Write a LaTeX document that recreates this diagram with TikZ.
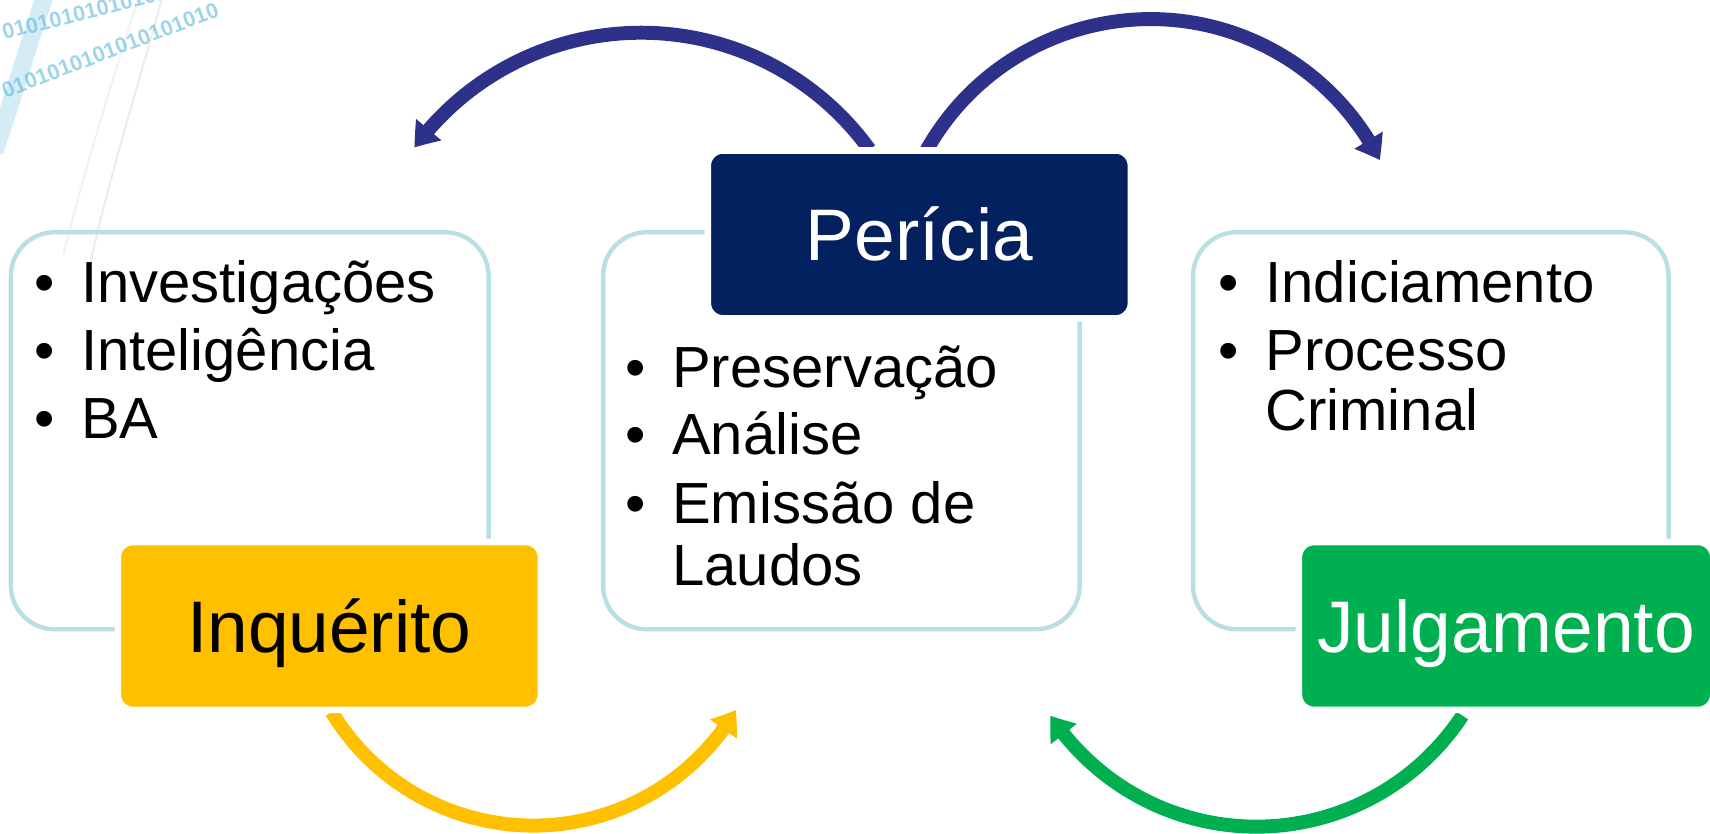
\documentclass[tikz,border=0pt]{standalone}
\usepackage{fontspec}
\setmainfont{Liberation Sans}
\usetikzlibrary{arrows.meta,bending}
\definecolor{outl}{HTML}{B9DFE4}
\definecolor{navybox}{HTML}{03205F}
\definecolor{navyarr}{HTML}{2E3189}
\definecolor{yelbox}{HTML}{FFC000}
\definecolor{grnbox}{HTML}{00AF50}
\definecolor{wmblue}{HTML}{5DB8E0}
\newcommand{\itembullet}{\makebox[21.5pt][l]{•}}
\begin{document}
\begin{tikzpicture}[x=0.5pt,y=0.5pt,
  outlinebox/.style={draw=outl, line width=2pt, rounded corners=20pt},
  titlebox/.style={rectangle, rounded corners=7pt, draw=white, line width=3pt,
     minimum width=194pt, minimum height=77pt, inner sep=0pt,
     text height=24pt, text depth=0pt, font=\fontsize{33.5}{40}\selectfont},
  listitem/.style={anchor=base west, inner sep=0pt, font=\fontsize{26.6}{32}\selectfont},
  cyclearrow/.style={line width=6.4pt, -{Triangle[length=10.5pt,width=14.5pt,bend]}},
  wmtext/.style={anchor=west, inner sep=0pt, text=wmblue, opacity=0.6,
     font=\fontsize{10}{11}\selectfont\bfseries}
]
\useasboundingbox (0,0) rectangle (1568,764);
\clip (0,0) rectangle (1568,764);

% faint background watermark (top-left)
\draw[wmblue!50, line width=8pt, opacity=0.55] (42,770) .. controls (28,730) and (14,680) .. (-5,625);
\draw[black!7, line width=1pt] (150,770) .. controls (125,680) and (100,600) .. (82,520);
\draw[black!5, line width=1pt] (128,770) .. controls (103,690) and (78,610) .. (58,530);
\node[wmtext, rotate=14] (wm1) at (2,734) {01010101010101010};
\node[wmtext, rotate=21] (wm2) at (2,680) {0101010101010101010};

% outline boxes
\draw[outlinebox] (10,187) rectangle (448,551);
\draw[outlinebox] (553,187) rectangle (990,551);
\draw[outlinebox] (1094,187) rectangle (1530,551);

% cycle arrows
\coordinate (a1s) at (797.2,626.9);
\coordinate (a2s) at (846.1,619.7);
\coordinate (a3s) at (304.2,111.1);
\coordinate (a4s) at (1340.9,107.9);
\draw[cyclearrow, navyarr] (a1s) arc[start angle=35.8, end angle=143.7, radius=129pt];
\draw[cyclearrow, navyarr] (a2s) arc[start angle=152.5, end angle=26.8, radius=117.75pt];
\draw[cyclearrow, yelbox] (a3s) arc[start angle=211.2, end angle=329.4, radius=108pt];
\draw[cyclearrow, grnbox] (a4s) arc[start angle=-33.3, end angle=-146.7, radius=113pt];

% title boxes
\node[titlebox, fill=yelbox, text=black] (inq) at (302,190) {Inquérito};
\node[titlebox, fill=navybox, text=white] (per) at (843,549) {Perícia};
\node[titlebox, fill=grnbox, text=white, minimum width=190pt] (jul) at (1381,190) {Julgamento};

% lists
\node[listitem] (l1) at (31,487) {\itembullet Investigações};
\node[listitem] (l2) at (31,424.5) {\itembullet Inteligência};
\node[listitem] (l3) at (31,362) {\itembullet BA};

\node[listitem] (m1) at (573,409) {\itembullet Preservação};
\node[listitem] (m2) at (573,347) {\itembullet Análise};
\node[listitem] (m3) at (573,284) {\itembullet Emissão de};
\node[listitem] (m4) at (573,227) {\hspace*{21.5pt}Laudos};

\node[listitem] (r1) at (1117,487) {\itembullet Indiciamento};
\node[listitem] (r2) at (1117,424) {\itembullet Processo};
\node[listitem] (r3) at (1117,369) {\hspace*{21.5pt}Criminal};
\end{tikzpicture}
\end{document}
